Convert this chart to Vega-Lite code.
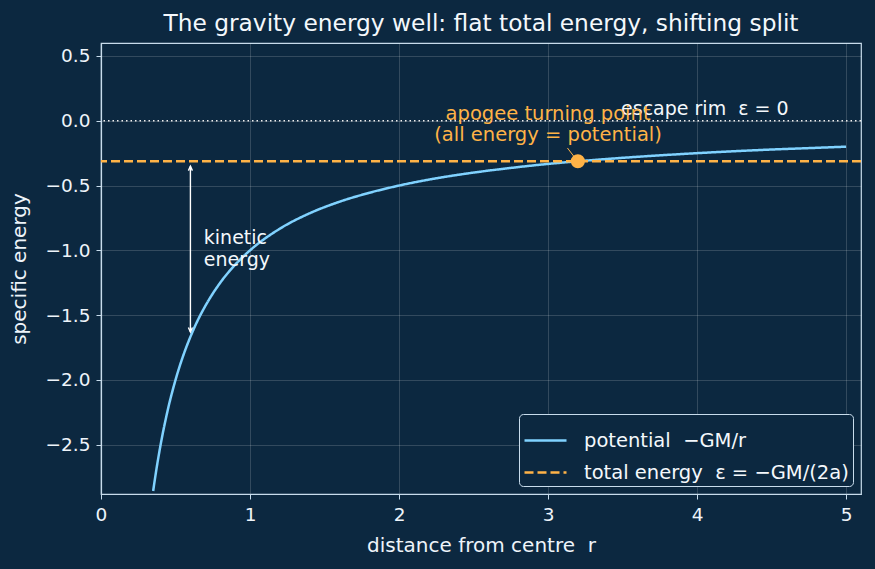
{
  "$schema": "https://vega.github.io/schema/vega-lite/v6.json",
  "width": 760,
  "height": 451,
  "autosize": {"type": "none"},
  "padding": {"left": 101, "top": 43, "right": 14, "bottom": 75},
  "background": "#0c2840",
  "config": {
    "font": "DejaVu Sans",
    "view": {"stroke": "#c8dcec", "strokeWidth": 1.2},
    "axis": {
      "domainColor": "#c8dcec", "tickColor": "#c8dcec", "labelColor": "#eef4fa", "titleColor": "#eef4fa",
      "labelFontSize": 18.5, "titleFontSize": 20, "titleFontWeight": "normal", "labelFlush": false,
      "gridColor": "#ffffff", "gridOpacity": 0.16, "tickSize": 5, "domainWidth": 1.2
    }
  },
  "title": {"text": "The gravity energy well: flat total energy, shifting split", "color": "#f4f8fc", "fontSize": 23.3, "fontWeight": "normal", "offset": 7},
  "datasets": {
    "curve": [
      {"r": 0.35, "e": -2.857, "series": "potential\u00a0\u00a0−GM/r"},
      {"r": 0.375, "e": -2.667, "series": "potential\u00a0\u00a0−GM/r"},
      {"r": 0.4, "e": -2.5, "series": "potential\u00a0\u00a0−GM/r"},
      {"r": 0.45, "e": -2.222, "series": "potential\u00a0\u00a0−GM/r"},
      {"r": 0.5, "e": -2.0, "series": "potential\u00a0\u00a0−GM/r"},
      {"r": 0.55, "e": -1.818, "series": "potential\u00a0\u00a0−GM/r"},
      {"r": 0.6, "e": -1.667, "series": "potential\u00a0\u00a0−GM/r"},
      {"r": 0.65, "e": -1.538, "series": "potential\u00a0\u00a0−GM/r"},
      {"r": 0.7, "e": -1.429, "series": "potential\u00a0\u00a0−GM/r"},
      {"r": 0.8, "e": -1.25, "series": "potential\u00a0\u00a0−GM/r"},
      {"r": 0.9, "e": -1.111, "series": "potential\u00a0\u00a0−GM/r"},
      {"r": 1.0, "e": -1.0, "series": "potential\u00a0\u00a0−GM/r"},
      {"r": 1.2, "e": -0.833, "series": "potential\u00a0\u00a0−GM/r"},
      {"r": 1.4, "e": -0.714, "series": "potential\u00a0\u00a0−GM/r"},
      {"r": 1.6, "e": -0.625, "series": "potential\u00a0\u00a0−GM/r"},
      {"r": 1.8, "e": -0.556, "series": "potential\u00a0\u00a0−GM/r"},
      {"r": 2.0, "e": -0.5, "series": "potential\u00a0\u00a0−GM/r"},
      {"r": 2.25, "e": -0.444, "series": "potential\u00a0\u00a0−GM/r"},
      {"r": 2.5, "e": -0.4, "series": "potential\u00a0\u00a0−GM/r"},
      {"r": 2.75, "e": -0.364, "series": "potential\u00a0\u00a0−GM/r"},
      {"r": 3.0, "e": -0.333, "series": "potential\u00a0\u00a0−GM/r"},
      {"r": 3.25, "e": -0.308, "series": "potential\u00a0\u00a0−GM/r"},
      {"r": 3.5, "e": -0.286, "series": "potential\u00a0\u00a0−GM/r"},
      {"r": 3.75, "e": -0.267, "series": "potential\u00a0\u00a0−GM/r"},
      {"r": 4.0, "e": -0.25, "series": "potential\u00a0\u00a0−GM/r"},
      {"r": 4.25, "e": -0.235, "series": "potential\u00a0\u00a0−GM/r"},
      {"r": 4.5, "e": -0.222, "series": "potential\u00a0\u00a0−GM/r"},
      {"r": 4.75, "e": -0.211, "series": "potential\u00a0\u00a0−GM/r"},
      {"r": 5.0, "e": -0.2, "series": "potential\u00a0\u00a0−GM/r"}
    ],
    "total": [{"e": -0.3125, "series": "total energy\u00a0\u00a0ε = −GM/(2a)"}],
    "escape": [{"e": 0}],
    "apogee": [{"r": 3.2, "e": -0.3125}],
    "pointer": [{"r": 3.13, "e": -0.21, "r2": 3.18, "e2": -0.285}],
    "arrow": [{"r": 0.6, "e1": -0.35, "e2": -1.63}],
    "heads": [{"r": 0.6, "e": -0.35, "dir": "up"}, {"r": 0.6, "e": -1.63, "dir": "down"}],
    "leftlabels": [
      {"r": 3.49, "e": 0.092, "t": "escape rim\u00a0\u00a0ε = 0"},
      {"r": 0.69, "e": -0.905, "t": "kinetic"},
      {"r": 0.69, "e": -1.075, "t": "energy"}
    ],
    "orangelabels": [
      {"r": 3.0, "e": 0.054, "t": "apogee turning point"},
      {"r": 3.0, "e": -0.11, "t": "(all energy = potential)"}
    ]
  },
  "layer": [
    {
      "data": {"name": "escape"},
      "mark": {"type": "rule", "color": "#f0f0f0", "strokeWidth": 1.5, "strokeDash": [1.5, 3]},
      "encoding": {"y": {"field": "e", "type": "quantitative", "scale": {"domain": [-2.88, 0.6], "nice": false, "zero": false},
        "axis": {"title": "specific energy", "values": [-2.5, -2, -1.5, -1, -0.5, 0, 0.5], "format": ".1f", "labelPadding": 6, "titlePadding": 16}}}
    },
    {
      "data": {"name": "curve"},
      "mark": {"type": "line", "strokeWidth": 2.5, "interpolate": "monotone"},
      "encoding": {
        "x": {"field": "r", "type": "quantitative", "scale": {"domain": [0, 5.1], "nice": false},
          "axis": {"title": "distance from centre\u00a0\u00a0r", "values": [0, 1, 2, 3, 4, 5], "format": "d", "labelPadding": 6, "titlePadding": 12}},
        "y": {"field": "e", "type": "quantitative"},
        "color": {"field": "series", "type": "nominal",
          "scale": {"domain": ["potential\u00a0\u00a0−GM/r", "total energy\u00a0\u00a0ε = −GM/(2a)"], "range": ["#80d2ff", "#ffb347"]},
          "legend": {"title": null, "orient": "bottom-right", "offset": 8, "fillColor": "#0c2840", "strokeColor": "#c8dcec",
            "cornerRadius": 4, "padding": 4, "labelColor": "#f4f8fc", "labelFontSize": 19.5, "labelLimit": 400, "symbolType": "stroke",
            "symbolStrokeWidth": 2.5, "symbolSize": 1764, "rowPadding": -10, "labelOffset": 16}},
        "strokeDash": {"field": "series", "type": "nominal",
          "scale": {"domain": ["potential\u00a0\u00a0−GM/r", "total energy\u00a0\u00a0ε = −GM/(2a)"], "range": [[1, 0], [9, 4]]},
          "legend": null}
      }
    },
    {
      "data": {"name": "total"},
      "mark": {"type": "rule", "strokeWidth": 2.5},
      "encoding": {
        "y": {"field": "e", "type": "quantitative"},
        "color": {"field": "series", "type": "nominal"},
        "strokeDash": {"field": "series", "type": "nominal"}
      }
    },
    {
      "data": {"name": "pointer"},
      "mark": {"type": "rule", "color": "#ffb347", "strokeWidth": 1},
      "encoding": {"x": {"field": "r", "type": "quantitative"}, "y": {"field": "e", "type": "quantitative"}, "x2": {"field": "r2"}, "y2": {"field": "e2"}}
    },
    {
      "data": {"name": "apogee"},
      "mark": {"type": "point", "filled": true, "opacity": 1, "color": "#ffb347", "size": 200},
      "encoding": {"x": {"field": "r", "type": "quantitative"}, "y": {"field": "e", "type": "quantitative"}}
    },
    {
      "data": {"name": "arrow"},
      "mark": {"type": "rule", "color": "#ffffff", "strokeWidth": 1.4},
      "encoding": {"x": {"field": "r", "type": "quantitative"}, "y": {"field": "e1", "type": "quantitative"}, "y2": {"field": "e2"}}
    },
    {
      "data": {"name": "heads"},
      "mark": {"type": "point", "filled": false, "color": "#ffffff", "strokeWidth": 1.4, "size": 80, "opacity": 1},
      "encoding": {
        "x": {"field": "r", "type": "quantitative"},
        "y": {"field": "e", "type": "quantitative"},
        "shape": {"field": "dir", "type": "nominal",
          "scale": {"domain": ["up", "down"], "range": ["M-0.45,1L0,0L0.45,1", "M-0.45,-1L0,0L0.45,-1"]}, "legend": null}
      }
    },
    {
      "data": {"name": "leftlabels"},
      "mark": {"type": "text", "fontSize": 19, "baseline": "middle", "align": "left", "color": "#f4f8fc"},
      "encoding": {
        "x": {"field": "r", "type": "quantitative"},
        "y": {"field": "e", "type": "quantitative"},
        "text": {"field": "t"}
      }
    },
    {
      "data": {"name": "orangelabels"},
      "mark": {"type": "text", "fontSize": 19.5, "baseline": "middle", "align": "center", "color": "#ffb347"},
      "encoding": {
        "x": {"field": "r", "type": "quantitative"},
        "y": {"field": "e", "type": "quantitative"},
        "text": {"field": "t"}
      }
    }
  ]
}
